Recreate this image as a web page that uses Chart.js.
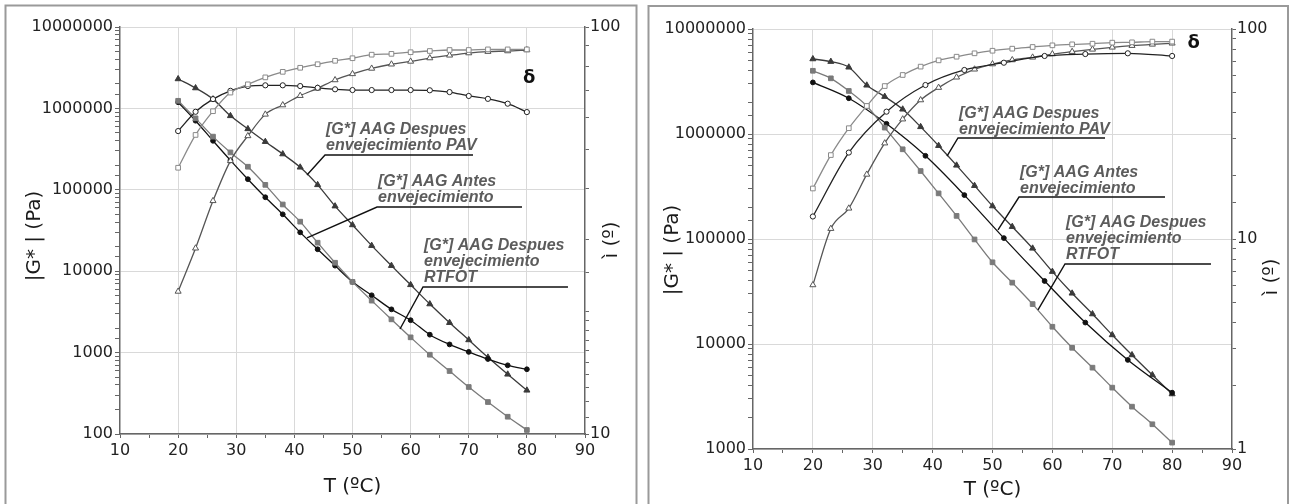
<!DOCTYPE html>
<html><head><meta charset="utf-8">
<script src="https://cdn.jsdelivr.net/npm/chart.js@4"></script>
<style>
html,body{margin:0;padding:0;background:#fff;width:1290px;height:504px;overflow:hidden}
#l{position:absolute;left:0;top:0}
#r{position:absolute;left:645px;top:0}
</style></head><body>
<canvas id="l" width="640" height="504"></canvas>
<canvas id="r" width="645" height="504"></canvas>
<script>
// ---------- DATA ----------
const X_TITLE = 'T (ºC)';
const Y_TITLE = '|G* | (Pa)';
const Y2_TITLE = 'ì (º)';

// Left panel
const T_L = [20,23,26,29,32,35,38,41,44,47,50,53.3,56.7,60,63.3,66.7,70,73.3,76.7,80];
const L_G_PAV   = [2.30e6,1.78e6,1.30e6,8.1e5,5.6e5,3.9e5,2.75e5,1.89e5,1.15e5,6.3e4,3.7e4,2.06e4,1.17e4,6.8e3,3.95e3,2.33e3,1.43e3,875,541,344];
const L_G_ANTES = [1.19e6,7.06e5,4.0e5,2.3e5,1.35e5,8.1e4,5.0e4,3.0e4,1.86e4,1.17e4,7.4e3,5.06e3,3.4e3,2.5e3,1.66e3,1.26e3,1.02e3,834,698,624];
const L_G_RTFOT = [1.24e6,7.55e5,4.5e5,2.88e5,1.92e5,1.15e5,6.6e4,4.06e4,2.24e4,1.27e4,7.4e3,4.35e3,2.56e3,1.54e3,942,594,378,247,163,112];
const L_D_RTFOT = [45.1,54.3,62.1,69.0,72.3,75.2,77.6,79.4,81.0,82.6,83.8,85.5,85.9,86.7,87.3,87.8,87.8,88.1,88.1,88.1];
const L_D_ANTES = [55.5,61.9,66.5,69.7,71.6,71.9,71.9,71.6,70.9,70.3,70.0,70.0,70.0,70.0,69.9,69.2,67.7,66.6,64.8,61.8];
const L_D_PAV   = [22.4,28.6,37.4,46.9,54.0,61.0,64.3,67.8,70.7,74.1,76.7,79.1,81.0,82.3,83.9,85.2,86.3,87.0,87.3,87.8];

// Right panel
const T_R = [20,23,26,29,32,35,38,41,44,47,50,53.3,56.7,60,63.3,66.7,70,73.3,76.7,80];
const T_R_ANTES = [20,26,32.3,38.8,45.3,51.9,58.7,65.5,72.6,80];
const R_G_PAV   = [5.18e6,4.89e6,4.32e6,2.91e6,2.27e6,1.72e6,1.17e6,7.74e5,5.03e5,3.22e5,2.06e5,1.31e5,8.15e4,4.89e4,3.04e4,1.93e4,1.22e4,7.86e3,5.07e3,3.34e3];
const R_G_RTFOT = [4.0e6,3.39e6,2.57e6,1.85e6,1.15e6,7.15e5,4.44e5,2.72e5,1.66e5,9.9e4,6.0e4,3.84e4,2.4e4,1.46e4,9.2e3,5.95e3,3.84e3,2.53e3,1.72e3,1.15e3];
const R_G_ANTES = [3.1e6,2.19e6,1.25e6,6.2e5,2.62e5,1.02e5,3.98e4,1.6e4,7.05e3,3.44e3];
const R_D_RTFOT = [17.4,25.1,33.7,43.0,53.5,60.4,66.2,70.9,73.8,76.6,78.8,80.6,82.1,83.6,84.5,85.1,86.1,86.4,87.1,87.1];
const R_D_ANTES = [12.8,25.8,40.4,54.1,63.8,69.1,74.4,76.0,76.6,74.4];
const R_D_PAV   = [6.04,11.2,14.0,20.3,28.6,37.2,45.9,52.6,58.9,64.3,68.1,71.2,73.3,76.0,78.0,80.0,81.8,83.3,84.5,85.5];

// Annotation labels (anchors in data units: [T, |G*|])
const NOTE_PAV   = ['[G*] AAG Despues','envejecimiento PAV'];
const NOTE_ANTES = ['[G*] AAG Antes','envejecimiento'];
const NOTE_RTFOT = ['[G*] AAG Despues','envejecimiento','RTFOT'];
const L_NOTES = [
  {text:NOTE_PAV,   corner:[45.27,2.68e5], leader:[42.17,1.52e5], end:70.73},
  {text:NOTE_ANTES, corner:[54.22,6.15e4], leader:[42.17,2.56e4], end:79.16},
  {text:NOTE_RTFOT, corner:[62.13,6.4e3],  leader:[58.17,1.95e3], end:87.07}
];
const R_NOTES = [
  {text:NOTE_PAV,   corner:[44.24,9.16e5], leader:[42.4,6.17e5], end:68.79},
  {text:NOTE_ANTES, corner:[54.43,2.51e5], leader:[50.92,1.22e5], end:78.81},
  {text:NOTE_RTFOT, corner:[62.11,5.78e4], leader:[57.6,2.11e4], end:86.49}
];
const L_DELTA_POS = [80.4, 74.9];
const R_DELTA_POS = [83.6, 85.3];

// ---------- CHART ----------
Chart.defaults.font.family = '"DejaVu Sans", sans-serif';
Chart.defaults.font.size = 16;
Chart.defaults.color = '#222';

function pts(xs, ys){ return ys.map((y,i)=>({x:xs[i], y:y})); }
function isDec(v){ const l=Math.log10(v); return Math.abs(l-Math.round(l))<1e-6; }

function ds(data, axis, color, fill, style, r){
  return {data, yAxisID:axis, borderColor:color, backgroundColor:fill, pointBackgroundColor:fill,
    pointBorderColor:color, pointStyle:style, pointRadius:r, pointBorderWidth:1, borderWidth:1.3,
    cubicInterpolationMode:'monotone', fill:false, showLine:true};
}

const deco = {
  id:'deco',
  afterDraw(chart){
    const o = chart.options.plugins.deco;
    const ctx = chart.ctx, ca = chart.chartArea, sx = chart.scales.x, sy = chart.scales.y, s2 = chart.scales.y2;
    ctx.save();
    ctx.strokeStyle = '#9a9a9a'; ctx.lineWidth = 2;
    ctx.strokeRect(o.frame[0], o.frame[1], o.frame[2], o.frame[3]);
    ctx.fillStyle = '#1a1a1a';
    ctx.font = '20px "DejaVu Sans"';
    ctx.textAlign = 'center'; ctx.textBaseline = 'middle';
    ctx.fillText(X_TITLE, (ca.left+ca.right)/2, o.xTitleY);
    ctx.save(); ctx.translate(o.yTitleX, o.yTitleY); ctx.rotate(-Math.PI/2); ctx.fillText(Y_TITLE,0,0); ctx.restore();
    ctx.save(); ctx.translate(o.y2TitleX, o.y2TitleY); ctx.rotate(-Math.PI/2); ctx.fillText(Y2_TITLE,0,0); ctx.restore();
    ctx.font = 'bold 18px "DejaVu Sans"'; ctx.fillStyle = '#111';
    ctx.fillText('δ', sx.getPixelForValue(o.delta[0]), s2.getPixelForValue(o.delta[1]));
    o.notes.forEach(n => {
      const cx = sx.getPixelForValue(n.corner[0]), cy = sy.getPixelForValue(n.corner[1]);
      const lx = sx.getPixelForValue(n.leader[0]), ly = sy.getPixelForValue(n.leader[1]);
      const ex = sx.getPixelForValue(n.end);
      ctx.strokeStyle = '#111'; ctx.lineWidth = 1.4;
      ctx.beginPath(); ctx.moveTo(lx,ly); ctx.lineTo(cx,cy); ctx.lineTo(ex,cy); ctx.stroke();
      ctx.font = 'italic bold 16px "Liberation Sans"'; ctx.fillStyle = '#5c5c5c';
      ctx.textAlign = 'left'; ctx.textBaseline = 'alphabetic';
      const k = n.text.length;
      n.text.forEach((t,i) => ctx.fillText(t, cx+1, cy - 4.5 - 16*(k-1-i)));
    });
    ctx.restore();
  }
};

function options(c){
  const gridMajor = '#d9d9d9', none = 'rgba(0,0,0,0)';
  return {
    responsive:false, animation:false, events:[],
    layout:{padding:{top:c.top, left:0, right:0, bottom:0}},
    plugins:{legend:{display:false}, tooltip:{enabled:false}, deco:c.deco},
    scales:{
      x:{type:'linear', min:10, max:90, afterFit:s=>{s.height=c.xh;},
        ticks:{stepSize:5, autoSkip:false, maxRotation:0, padding:3, color:'#222', font:{size:16},
          callback:v => (v%10===0 ? String(v) : '')},
        grid:{color:g => (g.tick && g.tick.value%10===0 && g.tick.value>10 && g.tick.value<90) ? gridMajor : none,
          tickColor:'#666', tickLength:4, lineWidth:1},
        border:{color:'#666', width:1.5}},
      y:{type:'logarithmic', position:'left', min:c.ymin, max:c.ymax, afterFit:s=>{s.width=c.yw;},
        ticks:{autoSkip:false, padding:2, color:'#222', font:{size:16},
          callback:v => (isDec(v) ? String(Math.round(v)) : '')},
        grid:{color:g => (g.tick && isDec(g.tick.value)) ? gridMajor : none, tickColor:'#666', tickLength:5, lineWidth:1},
        border:{color:'#666', width:1.5}},
      y2:{type:'logarithmic', position:'right', min:c.dmin, max:100, afterFit:s=>{s.width=c.y2w;},
        ticks:{autoSkip:false, padding:1, color:'#222', font:{size:16},
          callback:v => (isDec(v) ? String(Math.round(v)) : '')},
        grid:{drawOnChartArea:false, tickColor:'#666', tickLength:4},
        border:{color:'#666', width:1.5}}
    }
  };
}

const C_PAV = '#3a3a3a', C_ANT = '#111111', C_RTF = '#7a7a7a';
const C_DRTF = '#8a8a8a', C_DANT = '#222222', C_DPAV = '#555555';

new Chart(document.getElementById('l'), {
  type:'line',
  data:{datasets:[
    ds(pts(T_L,L_D_RTFOT),'y2',C_DRTF,'#fff','rect',3.3),
    ds(pts(T_L,L_D_ANTES),'y2',C_DANT,'#fff','circle',2.6),
    ds(pts(T_L,L_D_PAV),'y2',C_DPAV,'#fff','triangle',3.5),
    ds(pts(T_L,L_G_RTFOT),'y',C_RTF,C_RTF,'rect',3.3),
    ds(pts(T_L,L_G_ANTES),'y',C_ANT,C_ANT,'circle',2.4),
    ds(pts(T_L,L_G_PAV),'y',C_PAV,C_PAV,'triangle',3.5)
  ]},
  options:options({top:27, xh:70, yw:120, y2w:55, ymin:100, ymax:1e7, dmin:10,
    deco:{frame:[5.5,5.5,631,600], xTitleY:487, yTitleX:35, yTitleY:236, y2TitleX:612, y2TitleY:240,
      delta:L_DELTA_POS, notes:L_NOTES}}),
  plugins:[deco]
});

new Chart(document.getElementById('r'), {
  type:'line',
  data:{datasets:[
    ds(pts(T_R,R_D_RTFOT),'y2',C_DRTF,'#fff','rect',3.3),
    ds(pts(T_R_ANTES,R_D_ANTES),'y2',C_DANT,'#fff','circle',2.6),
    ds(pts(T_R,R_D_PAV),'y2',C_DPAV,'#fff','triangle',3.5),
    ds(pts(T_R,R_G_RTFOT),'y',C_RTF,C_RTF,'rect',3.3),
    ds(pts(T_R_ANTES,R_G_ANTES),'y',C_ANT,C_ANT,'circle',2.4),
    ds(pts(T_R,R_G_PAV),'y',C_PAV,C_PAV,'triangle',3.5)
  ]},
  options:options({top:29, xh:55, yw:108, y2w:58, ymin:1000, ymax:1e7, dmin:1,
    deco:{frame:[3.5,6,639.5,600], xTitleY:490, yTitleX:28, yTitleY:250, y2TitleX:627, y2TitleY:277,
      delta:R_DELTA_POS, notes:R_NOTES}}),
  plugins:[deco]
});
</script>
</body></html>
